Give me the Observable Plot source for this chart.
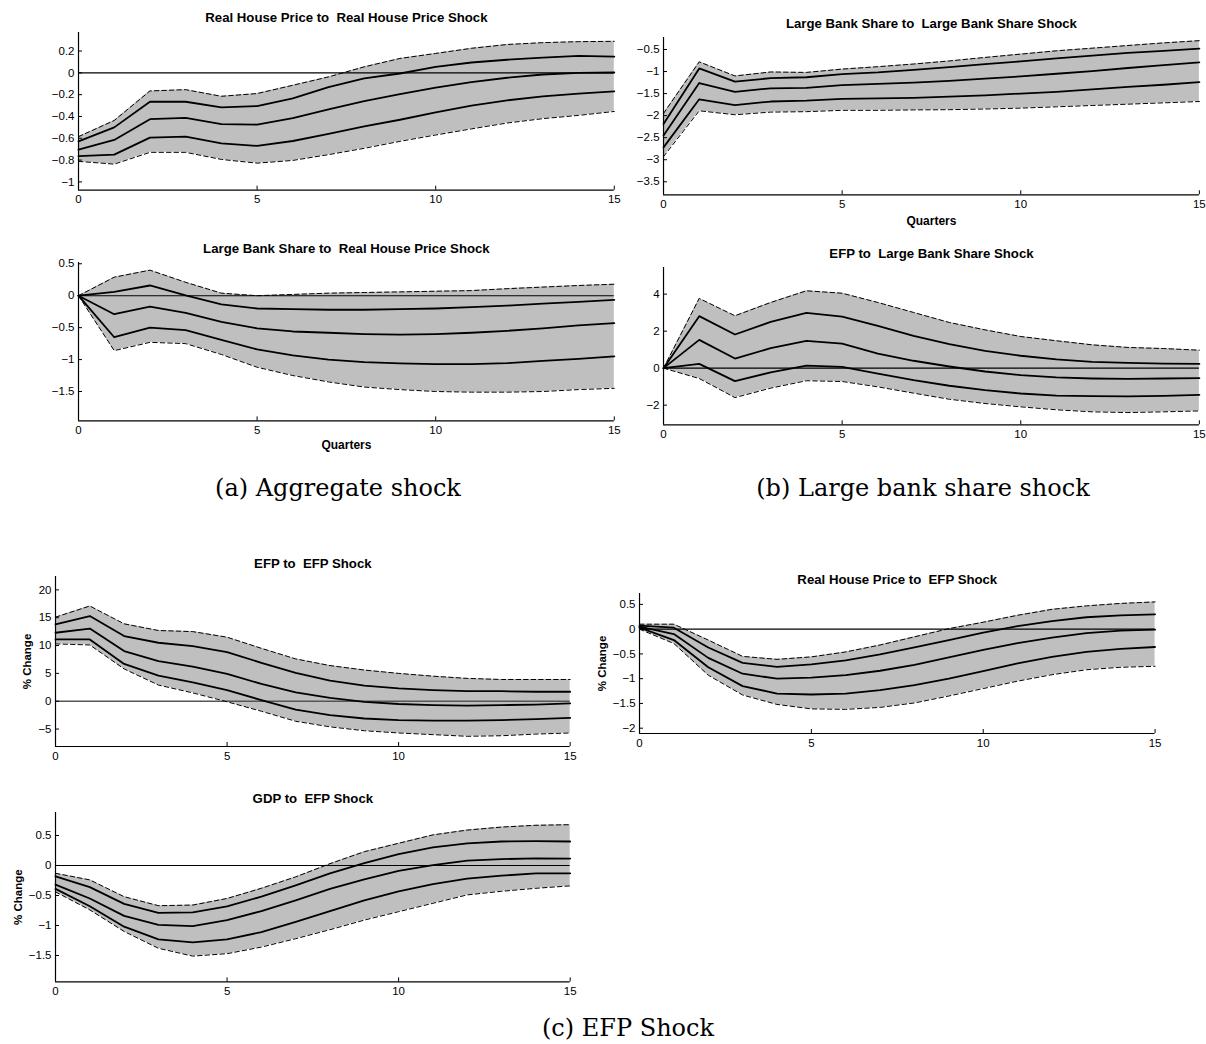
<!DOCTYPE html>
<html>
<head>
<meta charset="utf-8">
<script src="https://cdn.jsdelivr.net/npm/d3@7"></script>
<script src="https://cdn.jsdelivr.net/npm/@observablehq/plot@0.6"></script>
<style>
  html, body { margin: 0; padding: 0; background: #fff; }
  #page { position: relative; width: 1206px; height: 1044px; overflow: hidden; background: #fff; }
  .caption { position: absolute; font-family: "DejaVu Serif", "Liberation Serif", serif; font-size: 24px; color: #000;
             transform: translate(-50%, -50%); white-space: nowrap; }
</style>
</head>
<body>
<div id="page"></div>
<script>
// ---------- data ----------
const quarters = [0, 1, 2, 3, 4, 5, 6, 7, 8, 9, 10, 11, 12, 13, 14, 15];
const xTicks = [0, 5, 10, 15];

// (a) Real House Price to Real House Price Shock
const rhpRhpHi95 = [-0.585, -0.437, -0.166, -0.154, -0.215, -0.19, -0.114, -0.037, 0.055, 0.132, 0.178, 0.225, 0.26, 0.277, 0.286, 0.289];
const rhpRhpHi   = [-0.628, -0.50, -0.265, -0.265, -0.317, -0.305, -0.234, -0.13, -0.05, -0.006, 0.055, 0.095, 0.12, 0.14, 0.155, 0.148];
const rhpRhpMed  = [-0.705, -0.615, -0.425, -0.412, -0.47, -0.474, -0.415, -0.335, -0.26, -0.195, -0.135, -0.085, -0.045, -0.015, 0.0, 0.003];
const rhpRhpLo   = [-0.763, -0.75, -0.594, -0.585, -0.646, -0.67, -0.625, -0.56, -0.49, -0.43, -0.363, -0.30, -0.252, -0.215, -0.19, -0.17];
const rhpRhpLo95 = [-0.812, -0.837, -0.729, -0.729, -0.794, -0.828, -0.803, -0.75, -0.692, -0.628, -0.57, -0.514, -0.46, -0.42, -0.39, -0.354];
const rhpRhpTicks = [-1, -0.8, -0.6, -0.4, -0.2, 0, 0.2];

// (b) Large Bank Share to Large Bank Share Shock
const lbsLbsHi95 = [-1.95, -0.78, -1.10, -1.01, -1.02, -0.945, -0.89, -0.83, -0.76, -0.68, -0.605, -0.53, -0.47, -0.41, -0.35, -0.30];
const lbsLbsHi   = [-2.19, -0.93, -1.23, -1.15, -1.13, -1.06, -1.02, -0.96, -0.90, -0.83, -0.77, -0.70, -0.64, -0.575, -0.53, -0.48];
const lbsLbsMed  = [-2.45, -1.26, -1.46, -1.38, -1.37, -1.31, -1.28, -1.25, -1.21, -1.16, -1.11, -1.05, -0.99, -0.92, -0.855, -0.79];
const lbsLbsLo   = [-2.72, -1.63, -1.76, -1.68, -1.66, -1.62, -1.61, -1.595, -1.57, -1.54, -1.50, -1.46, -1.405, -1.35, -1.30, -1.24];
const lbsLbsLo95 = [-2.93, -1.89, -1.98, -1.92, -1.91, -1.88, -1.88, -1.87, -1.865, -1.85, -1.83, -1.80, -1.77, -1.74, -1.71, -1.68];
const lbsLbsTicks = [-3.5, -3, -2.5, -2, -1.5, -1, -0.5];

// (a) Large Bank Share to Real House Price Shock
const lbsRhpHi95 = [0, 0.29, 0.40, 0.21, 0.04, 0.0, 0.02, 0.04, 0.05, 0.06, 0.07, 0.08, 0.11, 0.135, 0.16, 0.18];
const lbsRhpHi   = [0, 0.06, 0.16, 0.005, -0.135, -0.20, -0.21, -0.22, -0.22, -0.21, -0.20, -0.18, -0.155, -0.125, -0.095, -0.065];
const lbsRhpMed  = [0, -0.29, -0.17, -0.27, -0.41, -0.51, -0.56, -0.58, -0.60, -0.61, -0.60, -0.58, -0.55, -0.51, -0.465, -0.43];
const lbsRhpLo   = [0, -0.65, -0.50, -0.54, -0.69, -0.84, -0.935, -1.00, -1.04, -1.06, -1.07, -1.07, -1.055, -1.02, -0.99, -0.95];
const lbsRhpLo95 = [0, -0.86, -0.73, -0.75, -0.92, -1.12, -1.25, -1.35, -1.43, -1.47, -1.50, -1.51, -1.51, -1.50, -1.47, -1.45];
const lbsRhpTicks = [-1.5, -1, -0.5, 0, 0.5];

// (b) EFP to Large Bank Share Shock
const efpLbsHi95 = [0, 3.77, 2.83, 3.55, 4.18, 4.05, 3.55, 3.01, 2.47, 2.07, 1.71, 1.48, 1.26, 1.12, 1.06, 0.97];
const efpLbsHi   = [0, 2.81, 1.82, 2.50, 2.99, 2.79, 2.29, 1.75, 1.30, 0.94, 0.67, 0.47, 0.34, 0.29, 0.25, 0.23];
const efpLbsMed  = [0, 1.53, 0.52, 1.08, 1.48, 1.33, 0.79, 0.40, 0.09, -0.18, -0.38, -0.50, -0.56, -0.58, -0.56, -0.54];
const efpLbsLo   = [0, 0.23, -0.70, -0.23, 0.14, 0.07, -0.29, -0.65, -0.95, -1.19, -1.37, -1.48, -1.51, -1.53, -1.50, -1.44];
const efpLbsLo95 = [0, -0.56, -1.59, -1.08, -0.68, -0.72, -1.01, -1.35, -1.68, -1.91, -2.09, -2.25, -2.36, -2.40, -2.36, -2.31];
const efpLbsTicks = [-2, 0, 2, 4];

// (c) EFP to EFP Shock
const efpEfpHi95 = [15.1, 17.1, 13.9, 12.7, 12.5, 11.5, 9.5, 7.6, 6.4, 5.6, 5.0, 4.5, 4.1, 3.9, 3.9, 3.9];
const efpEfpHi   = [13.8, 15.3, 11.7, 10.5, 9.9, 8.8, 6.9, 5.1, 3.7, 2.8, 2.3, 2.0, 1.8, 1.8, 1.7, 1.7];
const efpEfpMed  = [12.3, 13.05, 9.0, 7.2, 6.2, 4.9, 3.1, 1.6, 0.6, -0.1, -0.5, -0.7, -0.8, -0.7, -0.6, -0.4];
const efpEfpLo   = [11.1, 11.1, 6.7, 4.6, 3.4, 2.0, 0.2, -1.5, -2.5, -3.1, -3.4, -3.5, -3.5, -3.4, -3.2, -3.0];
const efpEfpLo95 = [10.3, 10.1, 5.8, 2.9, 1.5, -0.1, -1.8, -3.6, -4.6, -5.3, -5.7, -6.0, -6.3, -6.2, -5.9, -5.7];
const efpEfpTicks = [-5, 0, 5, 10, 15, 20];

// (c) Real House Price to EFP Shock
const rhpEfpHi95 = [0.10, 0.10, -0.22, -0.55, -0.61, -0.56, -0.46, -0.32, -0.155, 0.01, 0.14, 0.28, 0.40, 0.47, 0.52, 0.55];
const rhpEfpHi   = [0.07, 0.03, -0.37, -0.68, -0.76, -0.71, -0.63, -0.51, -0.37, -0.22, -0.07, 0.06, 0.16, 0.24, 0.28, 0.30];
const rhpEfpMed  = [0.05, -0.10, -0.58, -0.90, -1.0, -0.98, -0.93, -0.84, -0.72, -0.57, -0.42, -0.28, -0.17, -0.08, -0.03, -0.01];
const rhpEfpLo   = [0.03, -0.22, -0.77, -1.15, -1.30, -1.32, -1.30, -1.23, -1.13, -1.0, -0.85, -0.69, -0.56, -0.46, -0.40, -0.36];
const rhpEfpLo95 = [0.0, -0.29, -0.93, -1.33, -1.52, -1.61, -1.62, -1.58, -1.49, -1.35, -1.20, -1.05, -0.92, -0.82, -0.77, -0.75];
const rhpEfpTicks = [-2, -1.5, -1, -0.5, 0, 0.5];

// (c) GDP to EFP Shock
const gdpEfpHi95 = [-0.13, -0.24, -0.52, -0.67, -0.66, -0.55, -0.38, -0.19, 0.03, 0.23, 0.37, 0.51, 0.59, 0.64, 0.67, 0.68];
const gdpEfpHi   = [-0.18, -0.36, -0.64, -0.79, -0.78, -0.68, -0.52, -0.33, -0.13, 0.04, 0.19, 0.30, 0.37, 0.40, 0.405, 0.40];
const gdpEfpMed  = [-0.32, -0.55, -0.84, -0.99, -1.01, -0.91, -0.76, -0.58, -0.39, -0.23, -0.09, 0.005, 0.08, 0.105, 0.12, 0.115];
const gdpEfpLo   = [-0.39, -0.68, -1.02, -1.23, -1.28, -1.23, -1.11, -0.94, -0.76, -0.58, -0.43, -0.31, -0.22, -0.17, -0.13, -0.13];
const gdpEfpLo95 = [-0.44, -0.74, -1.10, -1.38, -1.51, -1.47, -1.36, -1.22, -1.07, -0.91, -0.77, -0.63, -0.49, -0.43, -0.38, -0.34];
const gdpEfpTicks = [-1.5, -1, -0.5, 0, 0.5];

const captions = ["(a) Aggregate shock", "(b) Large bank share shock", "(c) EFP Shock"];

// ---------- layout (axes box in page pixels) ----------
const panels = [
  {title: "Real House Price to  Real House Price Shock", hi95: rhpRhpHi95, hi: rhpRhpHi, med: rhpRhpMed, lo: rhpRhpLo, lo95: rhpRhpLo95,
   yTicks: rhpRhpTicks, yDomain: [-1.076, 0.37], L: 77.9, R: 613.7, T: 32.3, B: 190, titleY: 17.3},
  {title: "Large Bank Share to  Large Bank Share Shock", hi95: lbsLbsHi95, hi: lbsLbsHi, med: lbsLbsMed, lo: lbsLbsLo, lo95: lbsLbsLo95,
   yTicks: lbsLbsTicks, yDomain: [-3.795, -0.228], L: 662.5, R: 1198.4, T: 36.7, B: 194, titleY: 22.7, xLabel: "Quarters", xLabelY: 220},
  {title: "Large Bank Share to  Real House Price Shock", hi95: lbsRhpHi95, hi: lbsRhpHi, med: lbsRhpMed, lo: lbsRhpLo, lo95: lbsRhpLo95,
   yTicks: lbsRhpTicks, yDomain: [-1.96, 0.52], L: 77.9, R: 613.7, T: 262.3, B: 420.7, titleY: 248.3, xLabel: "Quarters", xLabelY: 445},
  {title: "EFP to  Large Bank Share Shock", hi95: efpLbsHi95, hi: efpLbsHi, med: efpLbsMed, lo: efpLbsLo, lo95: efpLbsLo95,
   yTicks: efpLbsTicks, yDomain: [-3.06, 5.44], L: 662.5, R: 1198.4, T: 266.7, B: 424, titleY: 252.7},
  {title: "EFP to  EFP Shock", hi95: efpEfpHi95, hi: efpEfpHi, med: efpEfpMed, lo: efpEfpLo, lo95: efpEfpLo95,
   yTicks: efpEfpTicks, yDomain: [-8.13, 22.4], L: 54.6, R: 569.3, T: 576, B: 746, titleY: 563.3, yLabel: "% Change", yLabelX: 26, zeroColor: "#555"},
  {title: "Real House Price to  EFP Shock", hi95: rhpEfpHi95, hi: rhpEfpHi, med: rhpEfpMed, lo: rhpEfpLo, lo95: rhpEfpLo95,
   yTicks: rhpEfpTicks, yDomain: [-2.107, 0.72], L: 639, R: 1154.6, T: 593.3, B: 733.3, titleY: 580, yLabel: "% Change", yLabelX: 602},
  {title: "GDP to  EFP Shock", hi95: gdpEfpHi95, hi: gdpEfpHi, med: gdpEfpMed, lo: gdpEfpLo, lo95: gdpEfpLo95,
   yTicks: gdpEfpTicks, yDomain: [-1.94, 0.883], L: 54.6, R: 569.3, T: 812.3, B: 981.7, titleY: 798.3, yLabel: "% Change", yLabelX: 17}
];
const captionPos = [[338, 488], [923, 488], [628, 1028]];

const page = document.getElementById("page");
const mL = 60, mR = 15, mT = 30, mB = 40;
const fmt = d => String(d).replace("-", "\u2212");

for (const p of panels) {
  const rows = quarters.map((q, i) => ({q, hi95: p.hi95[i], hi: p.hi[i], med: p.med[i], lo: p.lo[i], lo95: p.lo95[i]}));
  const marks = [
    Plot.areaY(rows, {x: "q", y1: "lo95", y2: "hi95", fill: "#bfbfbf", curve: "linear"})
  ];
  if (p.yDomain[0] < 0 && p.yDomain[1] > 0) marks.push(Plot.ruleY([0], {x1: quarters[0], x2: quarters[quarters.length - 1], stroke: p.zeroColor || "#000", strokeWidth: p.zeroColor ? 1.6 : 1.1}));
  for (const k of ["lo95", "hi95"]) marks.push(Plot.line(rows, {x: "q", y: k, stroke: "#000", strokeWidth: 1, strokeDasharray: "4.5,3"}));
  for (const k of ["lo", "med", "hi"]) marks.push(Plot.line(rows, {x: "q", y: k, stroke: "#000", strokeWidth: 1.8}));
  marks.push(Plot.ruleX([quarters[0]], {stroke: "#000", strokeWidth: 1.2}));
  marks.push(Plot.ruleY([p.yDomain[0]], {stroke: "#000", strokeWidth: 1.2}));
  marks.push(Plot.axisX({ticks: xTicks, tickSize: -4, tickPadding: 9, label: null, tickFormat: fmt, fontSize: 11.5}));
  marks.push(Plot.axisY({ticks: p.yTicks, tickSize: -4, tickPadding: 8, label: null, tickFormat: fmt, fontSize: 11.5}));
  marks.push(Plot.text([p.title], {frameAnchor: "top", lineAnchor: "middle", dy: p.titleY - p.T, fontWeight: "bold", fontSize: 13.2}));
  if (p.xLabel) marks.push(Plot.text([p.xLabel], {frameAnchor: "bottom", lineAnchor: "middle", dy: p.xLabelY - p.B, fontWeight: "bold", fontSize: 12}));
  if (p.yLabel) marks.push(Plot.text([p.yLabel], {frameAnchor: "left", textAnchor: "middle", lineAnchor: "middle", dx: p.yLabelX - p.L, rotate: -90, fontWeight: "bold", fontSize: 11.5}));

  const chart = Plot.plot({
    width: (p.R - p.L) + mL + mR,
    height: (p.B - p.T) + mT + mB,
    marginLeft: mL, marginRight: mR, marginTop: mT, marginBottom: mB,
    x: {domain: [0, 15]},
    y: {domain: p.yDomain},
    style: {fontFamily: "'Liberation Sans', Arial, Helvetica, sans-serif", fontSize: "11.5px", color: "#000", background: "none", overflow: "visible"},
    marks
  });
  chart.style.position = "absolute";
  chart.style.left = (p.L - mL) + "px";
  chart.style.top = (p.T - mT) + "px";
  page.appendChild(chart);
}

captions.forEach((c, i) => {
  const d = document.createElement("div");
  d.className = "caption";
  d.textContent = c;
  d.style.left = captionPos[i][0] + "px";
  d.style.top = captionPos[i][1] + "px";
  page.appendChild(d);
});
</script>
</body>
</html>
